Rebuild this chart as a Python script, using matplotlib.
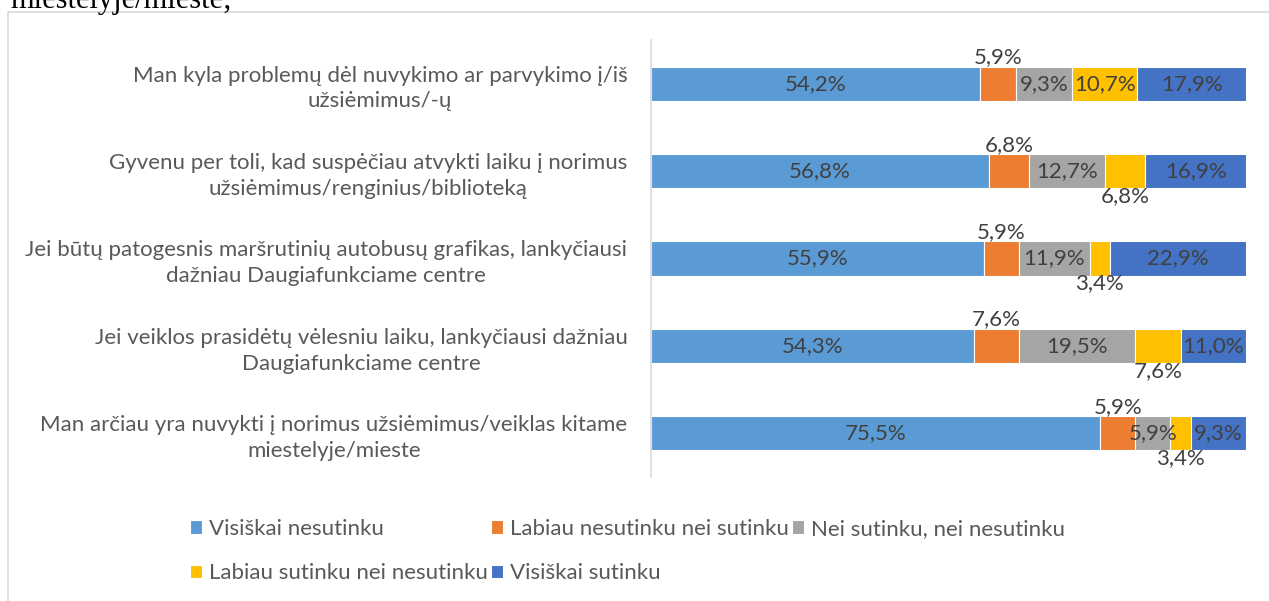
import matplotlib.pyplot as plt
from matplotlib.patches import Rectangle
import numpy as np

categories = [
    "Man kyla problemų dėl nuvykimo ar parvykimo į/iš\nužsiėmimus/-ų",
    "Gyvenu per toli, kad suspėčiau atvykti laiku į norimus\nužsiėmimus/renginius/biblioteką",
    "Jei būtų patogesnis maršrutinių autobusų grafikas, lankyčiausi\ndažniau Daugiafunkciame centre",
    "Jei veiklos prasidėtų vėlesniu laiku, lankyčiausi dažniau\nDaugiafunkciame centre",
    "Man arčiau yra nuvykti į norimus užsiėmimus/veiklas kitame\nmiestelyje/mieste",
]
series_names = [
    "Visiškai nesutinku",
    "Labiau nesutinku nei sutinku",
    "Nei sutinku, nei nesutinku",
    "Labiau sutinku nei nesutinku",
    "Visiškai sutinku",
]
visiskai_nesutinku = [54.2, 56.8, 55.9, 54.3, 75.5]
labiau_nesutinku = [5.9, 6.8, 5.9, 7.6, 5.9]
nei_nei = [9.3, 12.7, 11.9, 19.5, 5.9]
labiau_sutinku = [10.7, 6.8, 3.4, 7.6, 3.4]
visiskai_sutinku = [17.9, 16.9, 22.9, 11.0, 9.3]

colors = ["#5B9BD5", "#ED7D31", "#A5A5A5", "#FFC000", "#4472C4"]

plt.rcParams['font.family'] = ['Lato', 'DejaVu Sans']

fig = plt.figure(figsize=(12.69, 6.01), dpi=100)
W, H = 1269, 601

# text cut off above the chart (from the surrounding document)
fig.text(10 / W, 1 - 8 / H, "miestelyje/mieste;", family='Liberation Serif',
         fontsize=22, color='black', ha='left', va='baseline')

# chart frame
fig.patches.append(Rectangle((8 / W, -0.05), 1.2, 1 - 12 / H + 0.05,
                             transform=fig.transFigure, fill=False,
                             edgecolor='#D9D9D9', linewidth=1.2))

ax = fig.add_axes([651 / W, 1 - 477 / H, (1246 - 651) / W, (477 - 40) / H])

data = np.array([visiskai_nesutinku, labiau_nesutinku, nei_nei,
                 labiau_sutinku, visiskai_sutinku])
shares = data / data.sum(axis=0)  # 100% stacked
y = np.arange(len(categories))

left = np.zeros(len(categories))
handles = []
for i, (name, col) in enumerate(zip(series_names, colors)):
    bars = ax.barh(y, shares[i], left=left, height=0.39, color=col,
                   edgecolor='white', linewidth=0.8, label=name)
    handles.append(bars)
    for j, b in enumerate(bars):
        cx = left[j] + shares[i][j] / 2
        txt = f"{data[i][j]:.1f}%".replace('.', ',')
        if i == 1:
            dy = 19
        elif i == 3 and data[i][j] < 10:
            dy = -18
        else:
            dy = 0
        ax.annotate(txt, (cx, y[j]), xytext=(0, dy), textcoords='offset points',
                    ha='center', va='center', fontsize=16, color='#404040')
    left += shares[i]

ax.set_xlim(0, 1)
ax.set_ylim(len(categories) - 0.5, -0.5)
ax.set_yticks(y)
ax.set_yticklabels(categories, fontsize=16, color='#595959',
                   multialignment='center', linespacing=1.35)
ax.tick_params(axis='y', length=0, pad=17)
ax.set_xticks([])
for s in ['top', 'right', 'bottom']:
    ax.spines[s].set_visible(False)
ax.spines['left'].set_color('#D9D9D9')
ax.spines['left'].set_linewidth(1.2)

order = [0, 3, 1, 4, 2]
leg = fig.legend([handles[k] for k in order], [series_names[k] for k in order],
                 ncol=3, loc='upper left', bbox_to_anchor=(170 / W, 1 - 499 / H),
                 frameon=False, fontsize=16, labelcolor='#595959',
                 handlelength=0.55, handleheight=0.55, handletextpad=0.3,
                 columnspacing=0.15, labelspacing=1.1)

fig.savefig("out.png", dpi=100, facecolor='white')
